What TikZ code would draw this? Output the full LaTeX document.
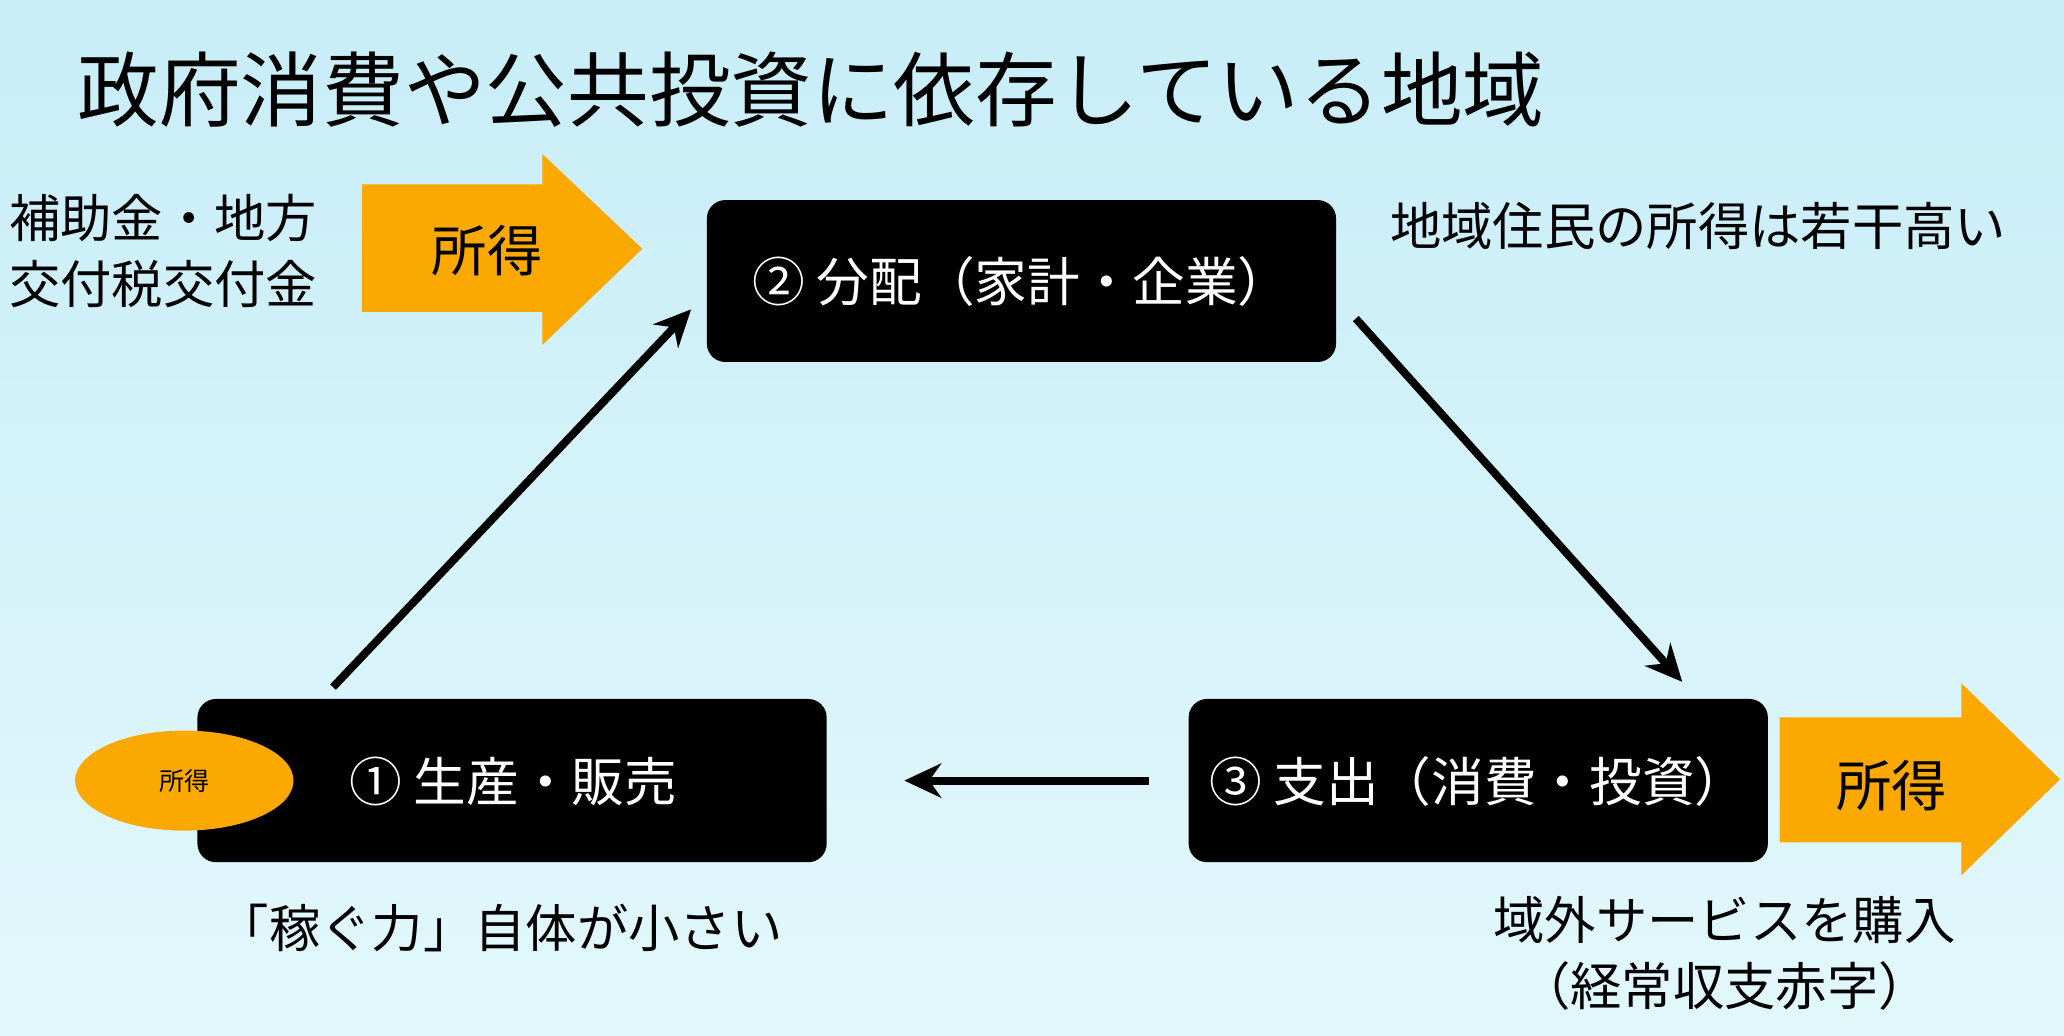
\documentclass[tikz,border=0pt]{standalone}
\usepackage{fontspec}
\setmainfont{Noto Sans CJK JP}
\usetikzlibrary{arrows.meta,shapes.geometric}
\definecolor{org}{HTML}{FBA900}
\definecolor{bgt}{HTML}{C8EDF8}
\definecolor{bgb}{HTML}{E2F8FB}
\begin{document}
\begin{tikzpicture}[x=0.5pt,y=-0.5pt,
  box/.style={fill=black,rounded corners=7pt},
  btxt/.style={text=white,font=\fontsize{20}{24}\selectfont},
  txt/.style={font=\fontsize{19.5}{25}\selectfont,align=center},
  flow/.style={line width=3pt,-{Stealth[length=14pt,width=13pt]}},
  big/.style={fill=org,draw=none}]
\fill[top color=bgt,bottom color=bgb] (0,0) rectangle (1568,787);
\useasboundingbox (0,0) rectangle (1568,787);
\node[anchor=west,font=\fontsize{31}{36}\selectfont] (title) at (52,68) {政府消費や公共投資に依存している地域};
\fill[box] (537,152) rectangle (1015,275);
\node[btxt] (b2) at (776,214) {② 分配（家計・企業）};
\fill[box] (150,531) rectangle (628,655);
\fill[box] (903,531) rectangle (1343,655);
\node[ellipse,fill=org,minimum width=166pt*0.5,minimum height=76pt*0.5,inner sep=0pt,font=\fontsize{9.5}{11}\selectfont] (e) at (140,593) {所得};
\node[btxt] (b1) at (390,594) {① 生産・販売};
\node[btxt] (b3) at (1123,594) {③ 支出（消費・投資）};
\fill[big] (275,140) -- (412,140) -- (412,117) -- (488,189) -- (412,262) -- (412,237) -- (275,237) -- cycle;
\node[font=\fontsize{21}{24}\selectfont] (i1) at (370,190) {所得};
\fill[big] (1352,545) -- (1490,545) -- (1490,519) -- (1565,592) -- (1490,665) -- (1490,640) -- (1352,640) -- cycle;
\node[font=\fontsize{21}{24}\selectfont] (i2) at (1437,597) {所得};
\node[txt,anchor=west,align=left] (lt) at (0,191) {補助金・地方\\交付税交付金};
\node[txt] (rt) at (1290,172) {地域住民の所得は若干高い};
\node[txt] (bl) at (380,705) {「稼ぐ力」自体が小さい};
\node[txt] (br) at (1310,724) {域外サービスを購入\\（経常収支赤字）};
\coordinate (a1s) at (253,522); \coordinate (a1e) at (525,235);
\coordinate (a2s) at (1030,242); \coordinate (a2e) at (1278,518);
\coordinate (a3s) at (873,593); \coordinate (a3e) at (687,593);
\draw[flow] (a1s) -- (a1e);
\draw[flow] (a2s) -- (a2e);
\draw[flow] (a3s) -- (a3e);
\end{tikzpicture}
\end{document}
